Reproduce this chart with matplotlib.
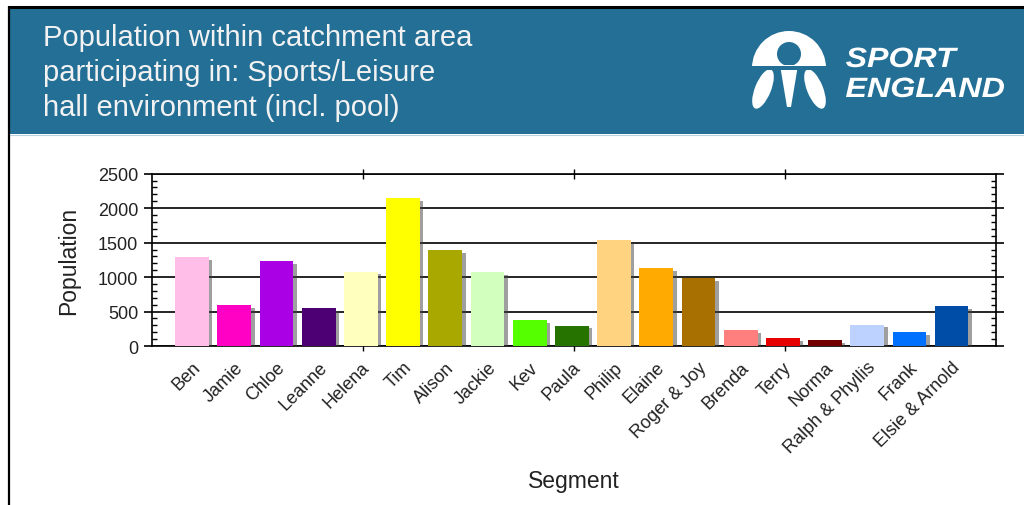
import numpy as np
import matplotlib
matplotlib.use("Agg")
import matplotlib.pyplot as plt
import matplotlib.patheffects as pe
from matplotlib.patches import Rectangle, Wedge, Circle, Ellipse, Polygon, PathPatch
from matplotlib.textpath import TextPath
from matplotlib.font_manager import FontProperties
from matplotlib.transforms import Affine2D

# =========================
# Data
# =========================
segments = ["Ben", "Jamie", "Chloe", "Leanne", "Helena", "Tim", "Alison", "Jackie",
            "Kev", "Paula", "Philip", "Elaine", "Roger & Joy", "Brenda", "Terry",
            "Norma", "Ralph & Phyllis", "Frank", "Elsie & Arnold"]
population = [1290, 590, 1230, 545, 1080, 2150, 1395, 1070, 370, 295,
              1535, 1135, 980, 225, 120, 80, 310, 205, 578]
bar_colors = ["#FFBEE8", "#FF00C5", "#A900E6", "#4C0073", "#FFFFBE", "#FFFF00",
              "#A8A800", "#D3FFBE", "#55FF00", "#267300", "#FFD37F", "#FFAA00",
              "#A87000", "#FF7F7F", "#E60000", "#730000", "#BED2FF", "#0070FF",
              "#004DA8"]
y_ticks = [0, 500, 1000, 1500, 2000, 2500]

title = "Population within catchment area\nparticipating in: Sports/Leisure\nhall environment (incl. pool)"
HEADER = "#236f96"

plt.rcParams["font.family"] = ["Liberation Sans", "DejaVu Sans"]


def stretched_text(axis, s, x0, y_base, width, cap, **kw):
    """bold italic word drawn as a path, scaled to a given pixel width / cap height"""
    prop = FontProperties(family="Liberation Sans", weight="bold", style="italic")
    tp = TextPath((0, 0), s, size=100, prop=prop)
    ext = tp.get_extents()
    sx = width / ext.width
    sy = cap / (0.716 * 100)
    tr = Affine2D().translate(-ext.x0, 0).scale(sx, -sy).translate(x0, y_base) + axis.transData
    axis.add_patch(PathPatch(tp, transform=tr, lw=0, **kw))


fig = plt.figure(figsize=(10.24, 5.06), dpi=100)

# ---- header / frame drawn in pixel coords ----
bg = fig.add_axes([0, 0, 1, 1], zorder=0)
bg.set_xlim(0, 1024)
bg.set_ylim(506, 0)
bg.axis("off")
bg.add_patch(Rectangle((10, 9), 1014, 126, color=HEADER, lw=0))
bg.plot([10, 1024], [135.5, 135.5], color="#b9d2de", lw=0.8)
bg.plot([9, 1024], [7.5, 7.5], color="black", lw=2.2, solid_capstyle="butt")
bg.plot([9, 9], [6.5, 506], color="black", lw=1.6, solid_capstyle="butt")

bg.text(43, 73, title, color="#f2f2f2", fontsize=21, va="center", ha="left",
        linespacing=1.3)

# logo (rough shapes)
bg.add_patch(Wedge((789, 69), 37, 180, 360, color="white", lw=0))
bg.add_patch(Circle((789, 55), 12, color=HEADER, lw=0))
bg.add_patch(Polygon([(780, 66), (798, 66), (791, 108), (787, 108)], closed=True,
                     color="white", lw=0))
bg.add_patch(Ellipse((763, 90), 16, 42, angle=22, color="white", lw=0))
bg.add_patch(Ellipse((815, 90), 16, 42, angle=-22, color="white", lw=0))
bg.add_patch(Rectangle((750, 67), 80, 4, color=HEADER, lw=0))
stretched_text(bg, "SPORT", 846, 68, 112, 20, color="white")
stretched_text(bg, "ENGLAND", 846, 98, 158, 20, color="white")

# ---- chart ----
ax = fig.add_axes([152 / 1024, 1 - 347 / 506, (995.5 - 152) / 1024, (347 - 174.7) / 506],
                  zorder=2)
ax.patch.set_alpha(0)
x = np.arange(len(segments))
shadow = [pe.SimplePatchShadow(offset=(2.5, -2), shadow_rgbFace="#404040", alpha=0.5),
          pe.Normal()]
bars = ax.bar(x, population, width=0.8, color=bar_colors, zorder=3)
for b in bars:
    b.set_path_effects(shadow)

ax.set_xlim(-0.95, 19.04)
ax.set_ylim(0, 2500)
ax.set_yticks(y_ticks)
ax.set_yticks(np.arange(0, 2501, 100), minor=True)
ax.grid(axis="y", color="black", lw=1.2, zorder=1)

# quarter ticks on top and bottom, category labels as minor ticks
xl = ax.get_xlim()
ax.set_xticks([xl[0] + (xl[1] - xl[0]) * f for f in (0.25, 0.5, 0.75)], labels=[])
ax.set_xticks(x, labels=segments, minor=True)
ax.tick_params(axis="x", which="major", direction="inout", length=7, width=1,
               top=True, bottom=True)
ax.tick_params(axis="x", which="minor", length=0, pad=9, labelsize=13,
               labelcolor="#222222")
for lab in ax.get_xticklabels(minor=True):
    lab.set_rotation(45)
    lab.set_ha("right")
    lab.set_va("top")
    lab.set_rotation_mode("anchor")

ax.tick_params(axis="y", which="major", direction="out", length=6, width=1.2,
               left=True, right=True, labelsize=13, labelcolor="#222222", pad=4)
ax.tick_params(axis="y", which="minor", direction="in", length=3.5, width=1,
               left=True, right=True)

for s in ax.spines.values():
    s.set_color("black")
    s.set_linewidth(1.2)
spine_shadow = [pe.SimplePatchShadow(offset=(2.5, -2.5), shadow_rgbFace="#505050",
                                     alpha=0.5), pe.Normal()]
ax.spines["bottom"].set_path_effects(spine_shadow)
ax.spines["right"].set_path_effects(spine_shadow)

ax.set_xlabel("Segment", fontsize=16.5, color="#222222", labelpad=9)
ax.set_ylabel("Population", fontsize=16.5, color="#222222", labelpad=13)

fig.savefig("out.png", dpi=100)
